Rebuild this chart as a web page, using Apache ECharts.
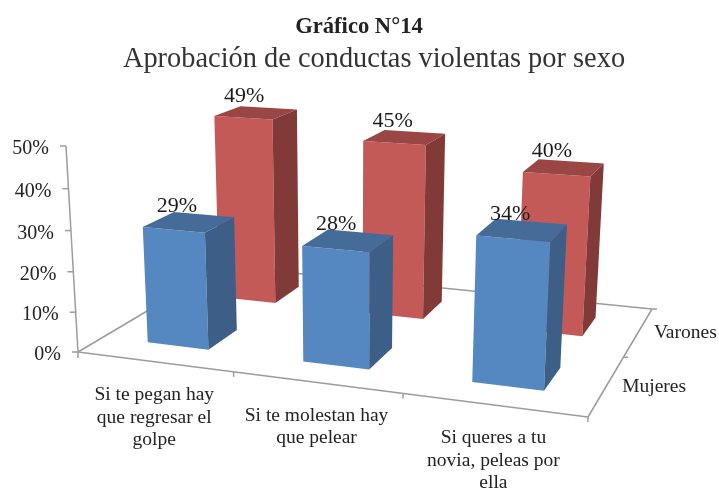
<!DOCTYPE html>
<html>
<head>
<meta charset="utf-8">
<style>
  html, body { margin: 0; padding: 0; background: #fff; }
  #chart { width: 719px; height: 489px; }
</style>
<script src="https://cdn.jsdelivr.net/npm/echarts@6/dist/echarts.min.js"></script>
</head>
<body>
<div id="chart"></div>
<script>
var categorias = ['Si te pegan hay\nque regresar el\ngolpe', 'Si te molestan hay\nque pelear', 'Si queres a tu\nnovia, peleas por\nella']
var sexos = ['Mujeres', 'Varones']
var mujeres = [29, 28, 34]
var varones = [49, 45, 40]
var ticksY = [0, 10, 20, 30, 40, 50]

var FUENTE = '"Liberation Serif", serif'
var COLOR_EJE = '#9c9c9c'

// corners of the floor on the page, the rest of the perspective comes from them
var piso = {x0: 78, y0: 352, x1: 588, y1: 417, x2: 652, y2: 309, x3: 223, y3: 266}
var techoEje = [66, 146]
var mz = -0.0427

var dx1 = piso.x1 - piso.x2, dy1 = piso.y1 - piso.y2
var dx2 = piso.x3 - piso.x2, dy2 = piso.y3 - piso.y2
var sx = piso.x0 - piso.x1 + piso.x2 - piso.x3
var sy = piso.y0 - piso.y1 + piso.y2 - piso.y3
var den = dx1 * dy2 - dx2 * dy1
var g = (sx * dy2 - dx2 * sy) / den
var h = (dx1 * sy - sx * dy1) / den
var a = piso.x1 - piso.x0 + g * piso.x1
var b = piso.x3 - piso.x0 + h * piso.x3
var d = piso.y1 - piso.y0 + g * piso.y1
var e = piso.y3 - piso.y0 + h * piso.y3
var kx = techoEje[0] * (mz + 1) - piso.x0
var ky = techoEje[1] * (mz + 1) - piso.y0

// s: along categories, t: depth, z: height, all 0..1
function proyectar (s, t, z) {
  var w = g * s + h * t + mz * z + 1
  return [
    (a * s + b * t + kx * z + piso.x0) / w,
    (d * s + e * t + ky * z + piso.y0) / w
  ]
}

function linea (p, q) {
  return {
    type: 'line',
    shape: {x1: p[0], y1: p[1], x2: q[0], y2: q[1]},
    style: {stroke: COLOR_EJE, lineWidth: 1.5}
  }
}

function texto (x, y, txt, size, align, vAlign, color) {
  return {
    type: 'text',
    z2: 50,
    style: {
      x: x,
      y: y,
      text: txt,
      fill: color || '#222',
      font: size + 'px ' + FUENTE,
      lineHeight: 22.5,
      textAlign: align,
      textVerticalAlign: vAlign
    }
  }
}

function caras (colores, filaSexo) {
  return function (params, api) {
    var cs = params.coordSys
    var i = api.value(0)
    var tope = api.coord([i, api.value(1)])
    var mitad = api.size([1, 0])[0] * 0.2
    var s0 = (tope[0] - mitad - cs.x) / cs.width
    var s1 = (tope[0] + mitad - cs.x) / cs.width
    var z = (cs.y + cs.height - tope[1]) / cs.height
    var t0 = (filaSexo + 0.3) / sexos.length
    var t1 = (filaSexo + 0.7) / sexos.length

    var fb0 = proyectar(s0, t0, 0), fb1 = proyectar(s1, t0, 0)
    var ft0 = proyectar(s0, t0, z), ft1 = proyectar(s1, t0, z)
    var bb1 = proyectar(s1, t1, 0)
    var bt0 = proyectar(s0, t1, z), bt1 = proyectar(s1, t1, z)
    var centro = proyectar((s0 + s1) / 2, (t0 + t1) / 2, z)

    return {
      type: 'group',
      children: [
        {type: 'polygon', shape: {points: [fb0, fb1, ft1, ft0]}, style: {fill: colores[0]}},
        {type: 'polygon', shape: {points: [ft0, ft1, bt1, bt0]}, style: {fill: colores[1]}},
        {type: 'polygon', shape: {points: [fb1, bb1, bt1, ft1]}, style: {fill: colores[2]}},
        texto(centro[0] - 12, centro[1] - 5, api.value(1) + '%', 22, 'center', 'bottom', '#1a1a1a')
      ]
    }
  }
}

var option = {
  animation: false,
  backgroundColor: '#fff',
  title: [
    {
      text: 'Gráfico N°14',
      left: 354,
      top: 11,
      textAlign: 'center',
      textStyle: {fontFamily: FUENTE, fontSize: 22.6, fontWeight: 'bold', color: '#222'}
    },
    {
      text: 'Aprobación de conductas violentas por sexo',
      left: 369,
      top: 41,
      textAlign: 'center',
      textStyle: {fontFamily: FUENTE, fontSize: 28.4, fontWeight: 'normal', color: '#333'}
    }
  ],
  // hidden front plane of the chart, its scales feed the perspective
  grid: {left: 78, top: 146, width: 510, height: 206},
  xAxis: {type: 'category', data: categorias, show: false},
  yAxis: {type: 'value', min: 0, max: 50, interval: 10, show: false},
  series: [
    {
      type: 'custom',
      name: 'piso',
      silent: true,
      data: [[0, 0]],
      renderItem: function () {
        var o = proyectar(0, 0, 0), f = proyectar(1, 0, 0)
        var c = proyectar(1, 1, 0), l = proyectar(0, 1, 0)
        return {
          type: 'group',
          children: [linea(o, f), linea(f, c), linea(c, l), linea(l, o), linea(o, proyectar(0, 0, 1))]
        }
      }
    },
    {
      type: 'custom',
      name: 'ticksY',
      silent: true,
      data: ticksY.map(function (v) { return [0, v] }),
      renderItem: function (params, api) {
        var cs = params.coordSys
        var z = (cs.y + cs.height - api.coord([0, api.value(1)])[1]) / cs.height
        var p = proyectar(0, 0, z)
        return {
          type: 'group',
          children: [
            linea(p, [p[0] - 6, p[1]]),
            texto(p[0] - 17, p[1] + 3, api.value(1) + '%', 20, 'right', 'middle')
          ]
        }
      }
    },
    {
      type: 'custom',
      name: 'categorias',
      silent: true,
      data: categorias.map(function (c, i) { return [i, 0] }),
      renderItem: function (params, api) {
        var cs = params.coordSys
        var i = api.value(0)
        var banda = api.size([1, 0])[0]
        var c = api.coord([i, 0])
        var s = (c[0] - cs.x) / cs.width
        var s1 = (c[0] + banda / 2 - cs.x) / cs.width
        var s0 = (c[0] - banda / 2 - cs.x) / cs.width
        var p = proyectar(s, 0, 0), q = proyectar(s1, 0, 0), r = proyectar(s0, 0, 0)
        var hijos = [
          linea(q, [q[0], q[1] + 5]),
          texto(p[0], p[1] + 22, categorias[i], 19.5, 'center', 'top')
        ]
        if (i === 0) hijos.push(linea(r, [r[0], r[1] + 6]))
        return {type: 'group', children: hijos}
      }
    },
    {
      type: 'custom',
      name: 'sexos',
      silent: true,
      data: sexos.map(function (n, j) { return [0, j] }),
      renderItem: function (params, api) {
        var j = api.value(1)
        var p = proyectar(1, (j + 0.5) / sexos.length, 0)
        var q = proyectar(1, (j + 1) / sexos.length, 0)
        return {
          type: 'group',
          children: [
            linea(q, [q[0] + 5, q[1]]),
            texto(p[0] + 15.5, p[1] + 1, sexos[j], 19.5, 'left', 'middle')
          ]
        }
      }
    },
    {
      type: 'custom',
      name: 'Varones',
      silent: true,
      data: varones.map(function (v, i) { return [i, v] }),
      renderItem: caras(['#c45a58', '#9a4644', '#823a39'], 1)
    },
    {
      type: 'custom',
      name: 'Mujeres',
      silent: true,
      data: mujeres.map(function (v, i) { return [i, v] }),
      renderItem: caras(['#5587c1', '#456c99', '#3d5e87'], 0)
    }
  ]
}

var myChart = echarts.init(document.getElementById('chart'))
myChart.setOption(option)
</script>
</body>
</html>
